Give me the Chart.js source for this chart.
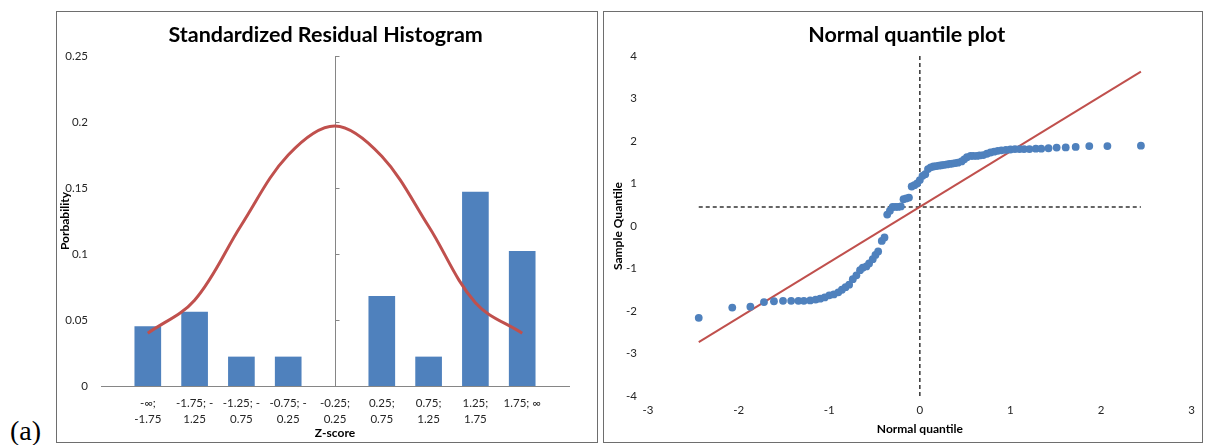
<!DOCTYPE html>
<html>
<head>
<meta charset="utf-8">
<script src="https://cdn.jsdelivr.net/npm/chart.js@4/dist/chart.umd.min.js"></script>
<style>
  html, body { margin: 0; padding: 0; background: #fff; width: 1206px; height: 445px; overflow: hidden; }
  .panel { position: absolute; top: 11px; height: 430px; border: 1px solid #6e6e6e; background: #fff; }
  #histPanel { left: 56px; width: 540px; }
  #qqPanel { left: 603px; width: 598px; }
  .panel canvas { display: block; }
  #tag { position: absolute; left: 10px; top: 416px; font-family: "Liberation Serif", "DejaVu Serif", serif;
         font-size: 28px; line-height: 30px; color: #000; }
</style>
</head>
<body>
<div id="tag">(a)</div>
<div class="panel" id="histPanel"><canvas id="hist" width="540" height="430"></canvas></div>
<div class="panel" id="qqPanel"><canvas id="qq" width="598" height="430"></canvas></div>
<script>
// ---- histogram of standardized residuals ----
const zBins = [
  ['-∞;', '-1.75'], ['-1.75; -', '1.25'], ['-1.25; -', '0.75'], ['-0.75; -', '0.25'],
  ['-0.25;', '0.25'], ['0.25;', '0.75'], ['0.75;', '1.25'], ['1.25;', '1.75'], ['1.75; ∞']
];
const binProbability = [0.045, 0.056, 0.022, 0.022, 0, 0.068, 0.022, 0.147, 0.102];
const normalCurve = [0.040, 0.065, 0.122, 0.175, 0.197, 0.174, 0.121, 0.063, 0.040];
const probabilityTicks = [0, 0.05, 0.1, 0.15, 0.2, 0.25];
const axisCrossBin = 4; // vertical axis crosses at the centre bin

// ---- normal quantile plot ----
const normalQuantiles = [
  -2.44, -2.07, -1.87, -1.72, -1.61, -1.51, -1.42, -1.34, -1.28, -1.21,
  -1.15, -1.10, -1.05, -1.00, -0.95, -0.90, -0.86, -0.82, -0.78, -0.74,
  -0.70, -0.66, -0.63, -0.59, -0.56, -0.52, -0.49, -0.46, -0.42, -0.39,
  -0.36, -0.33, -0.30, -0.27, -0.24, -0.21, -0.18, -0.15, -0.12, -0.09,
  -0.06, -0.03, 0,
  0.03, 0.06, 0.09, 0.12, 0.15, 0.18, 0.21, 0.24, 0.27, 0.30,
  0.33, 0.36, 0.39, 0.42, 0.46, 0.49, 0.52, 0.56, 0.59, 0.63,
  0.66, 0.70, 0.74, 0.78, 0.82, 0.86, 0.90, 0.95, 1.00, 1.05,
  1.10, 1.15, 1.21, 1.28, 1.34, 1.42, 1.51, 1.61, 1.72, 1.87,
  2.07, 2.44
];
const sampleQuantiles = [
  -2.16, -1.92, -1.90, -1.79, -1.77, -1.76, -1.76, -1.76, -1.76, -1.75,
  -1.73, -1.71, -1.68, -1.63, -1.61, -1.56, -1.50, -1.44, -1.38, -1.25,
  -1.16, -1.04, -0.98, -0.95, -0.88, -0.78, -0.68, -0.60, -0.35, -0.27,
  0.27, 0.36, 0.45, 0.45, 0.45, 0.46, 0.63, 0.65, 0.67, 0.93,
  0.96, 1.00, 1.08,
  1.18, 1.22, 1.34, 1.38, 1.40, 1.41, 1.42, 1.43, 1.44, 1.45,
  1.46, 1.47, 1.48, 1.49, 1.52, 1.57, 1.62, 1.65, 1.65, 1.65,
  1.66, 1.67, 1.70, 1.73, 1.75, 1.77, 1.78, 1.79, 1.80, 1.81,
  1.81, 1.81, 1.81, 1.82, 1.82, 1.83, 1.845, 1.85, 1.86, 1.88,
  1.88, 1.89
];
const fitLineX = [-2.44, 2.44];
const fitLineY = [-2.73, 3.63];
const meanSample = 0.45;
const quantileRangeX = [-2.44, 2.44];
const quantileRangeY = [-4, 4];

const BLUE = '#4F81BD';
const RED = '#C0504D';
const AXIS_GREY = '#868686';
const FONT = 'Lato';

Chart.defaults.font.family = FONT;
Chart.defaults.color = '#262626';
Chart.defaults.animation = false;

const titleCfg = (text) => ({
  display: true, text, color: '#000',
  font: { family: FONT, size: 21.5, weight: 'bold', lineHeight: 1.2 },
  padding: { top: 10, bottom: 8.2 }
});
const axisTitleFont = { family: FONT, size: 12, weight: 'bold', lineHeight: 1.2 };
const tickFont = { family: FONT, size: 11.5 };

// slides the chart title sideways by options.dx pixels
const titleShift = {
  id: 'titleShift',
  afterLayout(chart, args, opts) {
    const t = chart.titleBlock;
    if (t && opts.dx) { t.left += opts.dx; t.right += opts.dx; }
  }
};

// vertical value axis drawn through the centre bin, with small tick marks
const midAxis = {
  id: 'midAxis',
  beforeDatasetsDraw(chart) {
    const { ctx, scales: { x, y } } = chart;
    const px = Math.round(x.getPixelForValue(axisCrossBin)) + 0.5;
    ctx.save();
    ctx.strokeStyle = AXIS_GREY;
    ctx.lineWidth = 1;
    ctx.beginPath();
    ctx.moveTo(px, y.getPixelForValue(probabilityTicks[probabilityTicks.length - 1]));
    ctx.lineTo(px, y.getPixelForValue(0));
    probabilityTicks.forEach(v => {
      const py = Math.round(y.getPixelForValue(v)) + 0.5;
      ctx.moveTo(px, py);
      ctx.lineTo(px + 4, py);
    });
    ctx.stroke();
    ctx.restore();
  }
};

new Chart(document.getElementById('hist'), {
  type: 'bar',
  data: {
    datasets: [
      {
        type: 'line',
        data: normalCurve.map((v, i) => ({ x: i, y: v })),
        borderColor: RED, borderWidth: 3, tension: 0.35,
        pointRadius: 0, fill: false
      },
      {
        type: 'bar',
        // empty bins carry no bar
        data: binProbability.map((v, i) => ({ x: i, y: v })).filter(d => d.y > 0),
        backgroundColor: BLUE, borderWidth: 0, barThickness: 26
      }
    ]
  },
  options: {
    responsive: false,
    layout: { padding: { left: 0, right: 28, top: 0, bottom: 0 } },
    plugins: {
      legend: { display: false }, tooltip: { enabled: false },
      title: titleCfg('Standardized Residual Histogram'),
      titleShift: { dx: 12.6 }
    },
    scales: {
      x: {
        type: 'linear', min: -1, max: zBins.length, offset: false,
        afterFit(s) { s.height = 56; },
        afterBuildTicks(s) { s.ticks = zBins.map((_, i) => ({ value: i })); },
        ticks: {
          autoSkip: false, maxRotation: 0, minRotation: 0, padding: 9,
          font: { family: FONT, size: 11.5, lineHeight: '16px' },
          callback: (v) => zBins[v] !== undefined ? zBins[v] : ''
        },
        grid: { display: false, drawTicks: false },
        border: { display: true, color: AXIS_GREY, width: 1 },
        title: { display: true, text: 'Z-score', color: '#000', font: axisTitleFont, padding: { top: 0, bottom: 2 } }
      },
      y: {
        min: 0, max: 0.25,
        afterFit(s) { s.width = 44; },
        afterBuildTicks(s) { s.ticks = probabilityTicks.map(v => ({ value: v })); },
        ticks: { padding: 13, font: tickFont, callback: (v) => String(v) },
        grid: { display: false, drawTicks: false },
        border: { display: false },
        title: { display: true, text: 'Porbability', color: '#000', font: axisTitleFont, padding: { top: 1, bottom: 0 } }
      }
    }
  },
  plugins: [midAxis, titleShift]
});

new Chart(document.getElementById('qq'), {
  type: 'scatter',
  data: {
    datasets: [
      {
        data: normalQuantiles.map((q, i) => ({ x: q, y: sampleQuantiles[i] })),
        backgroundColor: BLUE, borderWidth: 0, pointRadius: 3.9, pointHoverRadius: 3.9
      },
      {
        type: 'line',
        data: fitLineX.map((q, i) => ({ x: q, y: fitLineY[i] })),
        borderColor: RED, borderWidth: 2, pointRadius: 0, fill: false
      },
      {
        type: 'line',
        data: quantileRangeY.map(v => ({ x: 0, y: v })),
        borderColor: '#333333', borderWidth: 1.5, borderDash: [4, 3], pointRadius: 0, fill: false
      },
      {
        type: 'line',
        data: quantileRangeX.map(q => ({ x: q, y: meanSample })),
        borderColor: '#333333', borderWidth: 1.5, borderDash: [4, 3], pointRadius: 0, fill: false
      }
    ]
  },
  options: {
    responsive: false,
    layout: { padding: { left: 0, right: 10, top: 0, bottom: 0 } },
    plugins: {
      legend: { display: false }, tooltip: { enabled: false },
      title: titleCfg('Normal quantile plot'),
      titleShift: { dx: 8.7 }
    },
    scales: {
      x: {
        type: 'linear', min: -3, max: 3,
        afterFit(s) { s.height = 46; },
        ticks: { stepSize: 1, padding: 7, font: tickFont },
        grid: { display: false, drawTicks: false },
        border: { display: false },
        title: { display: true, text: 'Normal quantile', color: '#000', font: axisTitleFont, padding: { top: 0, bottom: 6 } }
      },
      y: {
        min: -4, max: 4,
        afterFit(s) { s.width = 44; },
        ticks: { stepSize: 1, padding: 11, font: tickFont },
        grid: { display: false, drawTicks: false },
        border: { display: false },
        title: { display: true, text: 'Sample Quantile', color: '#000', font: axisTitleFont, padding: { top: 6.5, bottom: 0 } }
      }
    }
  },
  plugins: [titleShift]
});
</script>
</body>
</html>
